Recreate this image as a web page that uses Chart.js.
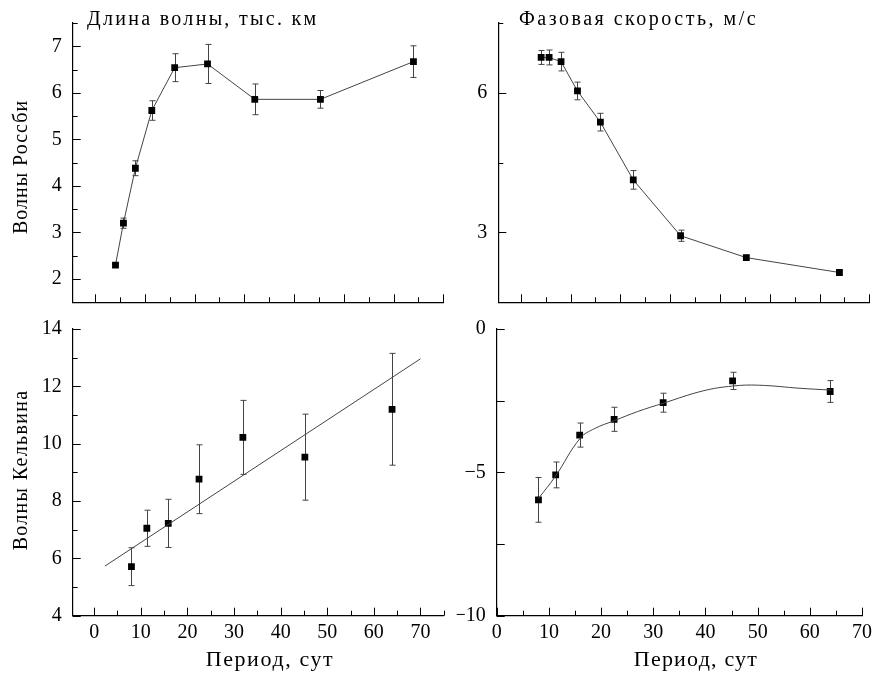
<!DOCTYPE html>
<html>
<head>
<meta charset="utf-8">
<script src="https://cdn.jsdelivr.net/npm/chart.js@4.4.0/dist/chart.umd.min.js"></script>
<style>
  body { margin: 0; background: #fff; width: 877px; height: 673px; overflow: hidden; position: relative; font-family: "Liberation Serif", serif; }
  canvas { position: absolute; left: 0; top: 0; pointer-events: none; }
  .t { position: absolute; font-family: "Liberation Serif", serif; font-size: 20px; color: #000; white-space: nowrap; line-height: 1; }
  .v { transform: translate(-50%, -50%) rotate(-90deg); }
  .h { transform: translate(-50%, -50%); }
</style>
</head>
<body>
<canvas id="tl" width="877" height="673"></canvas>
<canvas id="tr" width="877" height="673"></canvas>
<canvas id="bl" width="877" height="673"></canvas>
<canvas id="br" width="877" height="673"></canvas>

<div class="t" style="left:87px;top:8px;letter-spacing:2.3px">Длина волны, тыс. км</div>
<div class="t" style="left:519px;top:8px;letter-spacing:2.5px">Фазовая скорость, м/с</div>
<div class="t v" style="left:20px;top:167px;letter-spacing:1px">Волны Россби</div>
<div class="t v" style="left:20px;top:470px;letter-spacing:1.3px">Волны Кельвина</div>
<div class="t h" style="left:270px;top:659px;font-size:22px;letter-spacing:1.6px">Период, сут</div>
<div class="t h" style="left:696px;top:659px;font-size:22px;letter-spacing:1.2px">Период, сут</div>

<script>
// ─── Data ────────────────────────────────────────────────────────────────────
// Rossby waves (top row), periods in days
const periodTop = [4.1, 5.7, 8.1, 11.4, 16.0, 22.6, 32.1, 45.3, 64.0];
const rossbyLength = [2.30, 3.20, 4.38, 5.62, 6.54, 6.62, 5.86, 5.86, 6.67];
const rossbyLengthErr = [0.03, 0.11, 0.16, 0.21, 0.30, 0.42, 0.33, 0.19, 0.34];
const rossbySpeed = [6.76, 6.76, 6.67, 6.04, 5.37, 4.13, 2.93, 2.46, 2.14];
const rossbySpeedErr = [0.15, 0.16, 0.20, 0.19, 0.19, 0.20, 0.12, 0.05, 0.04];

// Kelvin waves (bottom row)
const periodBottom = [8.0, 11.3, 15.9, 22.5, 31.9, 45.2, 63.9];
const kelvinLength = [5.71, 7.05, 7.22, 8.76, 10.22, 9.53, 11.20];
const kelvinLengthErr = [0.66, 0.63, 0.84, 1.20, 1.29, 1.50, 1.95];
const kelvinFitX = [2.3, 70.0];
const kelvinFitY = [5.73, 12.96];
const kelvinSpeed = [-5.96, -5.09, -3.70, -3.15, -2.57, -1.81, -2.18];
const kelvinSpeedErr = [0.78, 0.45, 0.42, 0.42, 0.33, 0.30, 0.38];
const kelvinCurveX = [8.0, 11.2, 16.0, 18.8, 22.5, 27.0, 31.9, 39.5, 45.2, 50.2, 58.3, 64.0];
const kelvinCurveY = [-5.91, -5.15, -3.81, -3.47, -3.20, -2.88, -2.59, -2.16, -1.99, -1.96, -2.07, -2.13];

// Tick labels
const xLabelsBottom = [0, 10, 20, 30, 40, 50, 60, 70];
const yLabelsTL = [2, 3, 4, 5, 6, 7];
const yLabelsTR = [3, 6];
const yLabelsBL = [4, 6, 8, 10, 12, 14];
const yLabelsBR = [0, -5, -10];

// ─── Plugins ─────────────────────────────────────────────────────────────────
const zip = (xs, ys) => xs.map((x, i) => ({ x, y: ys[i] }));

// error bars, drawn under the markers
const errorBars = {
  id: 'errorBars',
  beforeDatasetsDraw(chart) {
    const { ctx, scales: { x, y } } = chart;
    ctx.save();
    ctx.strokeStyle = '#444';
    ctx.lineWidth = 1;
    chart.data.datasets.forEach(ds => {
      if (!ds.err) return;
      ds.data.forEach((p, i) => {
        const px = Math.round(x.getPixelForValue(p.x)) + 0.5;
        const y1 = y.getPixelForValue(p.y + ds.err[i]);
        const y2 = y.getPixelForValue(p.y - ds.err[i]);
        ctx.beginPath();
        ctx.moveTo(px, y1); ctx.lineTo(px, y2);
        ctx.moveTo(px - 3, y1); ctx.lineTo(px + 3, y1);
        ctx.moveTo(px - 3, y2); ctx.lineTo(px + 3, y2);
        ctx.stroke();
      });
    });
    ctx.restore();
  }
};

// ticks pointing into the plot, long on majors
const inwardTicks = {
  id: 'inwardTicks',
  afterDraw(chart, args, opts) {
    const ctx = chart.ctx;
    ctx.save();
    ctx.strokeStyle = '#000';
    ctx.lineWidth = 1;
    ['x', 'y'].forEach(id => {
      const s = chart.scales[id], o = opts[id];
      if (!o) return;
      const k0 = Math.ceil(s.min / o.step - 1e-6), k1 = Math.floor(s.max / o.step + 1e-6);
      for (let k = k0; k <= k1; k++) {
        const v = k * o.step;
        const r = v / o.major;
        const len = Math.abs(r - Math.round(r)) < 1e-6 ? 8 : 5;
        const p = Math.round(s.getPixelForValue(v)) + 0.5;
        ctx.beginPath();
        if (id === 'x') { ctx.moveTo(p, s.top); ctx.lineTo(p, s.top - len); }
        else { ctx.moveTo(s.right, p); ctx.lineTo(s.right + len, p); }
        ctx.stroke();
      }
    });
    ctx.restore();
  }
};

const fmt = v => (v < 0 ? '\u2212' + Math.abs(v) : String(v));
const tickFont = { family: '"Liberation Serif", serif', size: 20 };

function axis(min, max, step, labels, showLabels, fit) {
  return {
    type: 'linear', min, max,
    grid: { display: false, drawTicks: false },
    border: { display: true, color: '#000', width: 1.2 },
    afterFit: fit,
    ticks: {
      display: showLabels, stepSize: step, autoSkip: false, maxRotation: 0, includeBounds: false,
      padding: 4, color: '#000', font: tickFont,
      callback: v => labels.some(l => Math.abs(l - v) < 1e-6) ? fmt(v) : ''
    }
  };
}

// box = plot area in page pixels
function makeChart(id, box, xs, ys, marks, datasets) {
  const YW = 40, XH = 30;
  const x = axis(xs.min, xs.max, xs.step, xs.labels || [], !!xs.labels, s => { s.height = XH; });
  const y = axis(ys.min, ys.max, ys.step, ys.labels, true, s => { s.width = YW; });
  y.ticks.padding = 11;
  x.ticks.padding = 5;
  return new Chart(document.getElementById(id), {
    type: 'scatter',
    data: { datasets },
    options: {
      responsive: false, animation: false, events: [],
      layout: { padding: { left: box.l - YW, top: box.t, right: 877 - box.r, bottom: 673 - box.b - XH } },
      plugins: { legend: { display: false }, tooltip: { enabled: false }, inwardTicks: marks },
      scales: { x, y }
    },
    plugins: [errorBars, inwardTicks]
  });
}

const markers = (data, err, line) => ({
  data, err,
  showLine: line, borderColor: '#444', borderWidth: 1,
  pointStyle: 'rect', pointRadius: 4.8, pointBackgroundColor: '#000', pointBorderColor: '#000', pointBorderWidth: 0
});
const curve = (data, tension) => ({
  data, showLine: true, tension, borderColor: '#444', borderWidth: 1, pointRadius: 0
});

makeChart('tl', { l: 72.7, t: 15, r: 443.3, b: 302.3 },
  { min: -4.5, max: 70, step: 5 },
  { min: 1.5, max: 7.5, step: 0.5, labels: yLabelsTL },
  { x: { step: 5, major: 10 }, y: { step: 0.5, major: 1 } },
  [markers(zip(periodTop, rossbyLength), rossbyLengthErr, true)]);

makeChart('tr', { l: 498.3, t: 15, r: 869.3, b: 302.3 },
  { min: -4.5, max: 70, step: 5 },
  { min: 1.5, max: 7.5, step: 1.5, labels: yLabelsTR },
  { x: { step: 5, major: 10 }, y: { step: 1.5, major: 3 } },
  [markers(zip(periodTop, rossbySpeed), rossbySpeedErr, true)]);

makeChart('bl', { l: 72.7, t: 329, r: 443.8, b: 615.7 },
  { min: -4.6, max: 75, step: 10, labels: xLabelsBottom },
  { min: 4, max: 14, step: 2, labels: yLabelsBL },
  { x: { step: 5, major: 10 }, y: { step: 1, major: 2 } },
  [curve(zip(kelvinFitX, kelvinFitY), 0), markers(zip(periodBottom, kelvinLength), kelvinLengthErr, false)]);

makeChart('br', { l: 496.7, t: 329, r: 868.3, b: 615.7 },
  { min: 0, max: 70, step: 10, labels: xLabelsBottom },
  { min: -10, max: 0, step: 5, labels: yLabelsBR },
  { x: { step: 5, major: 10 }, y: { step: 2.5, major: 2.5 } },
  [curve(zip(kelvinCurveX, kelvinCurveY), 0.4), markers(zip(periodBottom, kelvinSpeed), kelvinSpeedErr, false)]);
</script>
</body>
</html>
